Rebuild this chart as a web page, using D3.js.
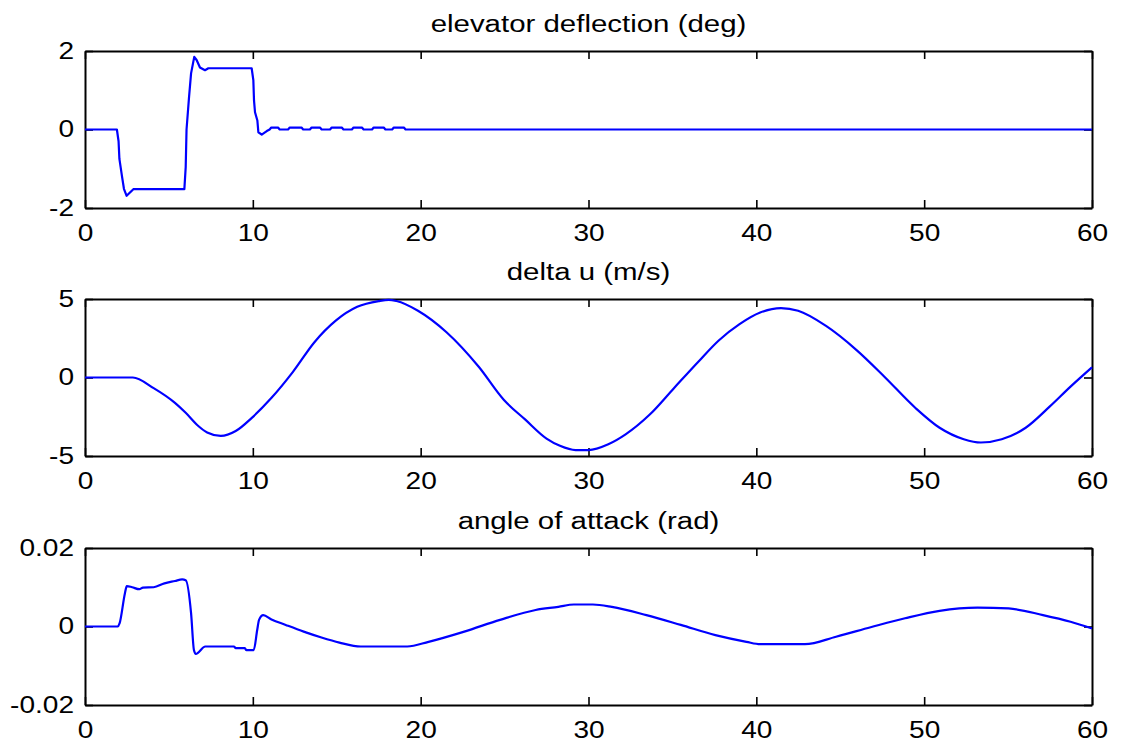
<!DOCTYPE html>
<html>
<head>
<meta charset="utf-8">
<script src="https://cdn.jsdelivr.net/npm/d3@7"></script>
<style>
  body { margin: 0; background: #fff; }
  svg { display: block; font-family: "Liberation Sans", Arial, Helvetica, sans-serif; }
</style>
</head>
<body>
<svg id="fig" width="1122" height="742"></svg>
<script>
// Simulated longitudinal response of the aircraft (time in seconds)
const xTicks = [0, 10, 20, 30, 40, 50, 60];
const panelTitles = ["elevator deflection (deg)", "delta u (m/s)", "angle of attack (rad)"];

// elevator deflection (deg)
const elevTime = [0, 1.9, 2.0, 2.05, 2.2, 2.32, 2.48, 2.88, 5.92, 6.0,
  6.05, 6.2, 6.32, 6.51, 6.65, 6.85, 7.15, 7.35, 9.93, 10.03,
  10.07, 10.13, 10.27, 10.33, 10.53, 10.83, 11.0, 11.1, 11.5, 11.6,
  12.1, 12.2, 12.9, 13.0, 13.4, 13.5, 14.0, 14.1, 14.6, 14.7,
  15.3, 15.4, 15.9, 16.0, 16.5, 16.6, 17.1, 17.2, 17.8, 17.9,
  18.3, 18.4, 19.0, 19.1, 60];
const elevDeg = [0, 0, -0.3, -0.75, -1.18, -1.51, -1.69, -1.52, -1.52, -0.96,
  0, 0.83, 1.43, 1.85, 1.77, 1.58, 1.51, 1.56, 1.56, 1.26,
  0.74, 0.44, 0.23, -0.07, -0.13, -0.04, 0, 0.05, 0.05, 0,
  0, 0.05, 0.05, 0, 0, 0.05, 0.05, 0, 0, 0.05,
  0.05, 0, 0, 0.05, 0.05, 0, 0, 0.05, 0.05, 0,
  0, 0.05, 0.05, 0, 0];
const elevTicks = [-2, 0, 2];

// forward speed perturbation (m/s)
const speedTime = [0, 2.85, 4.09, 5.36, 6.0, 6.75, 7.28, 8.09, 8.98, 9.94,
  11.1, 12.39, 13.67, 14.94, 16.22, 17.5, 18.1, 18.56, 19.84, 21.54,
  23.46, 24.95, 26.22, 27.5, 28.3, 29.23, 30.0, 31.18, 32.21, 33.65,
  35.09, 36.53, 37.76, 39.0, 40.23, 41.47, 42.49, 44.13, 45.99, 47.63,
  49.48, 50.92, 52.36, 53.38, 54.62, 56.05, 57.49, 58.72, 60];
const speedDelta = [0, 0, -0.68, -1.62, -2.25, -3.09, -3.5, -3.72, -3.41, -2.57,
  -1.31, 0.36, 2.25, 3.62, 4.5, 4.87, 4.95, 4.87, 4.25, 2.88,
  0.68, -1.42, -2.67, -3.89, -4.35, -4.62, -4.62, -4.25, -3.62, -2.36,
  -0.68, 0.99, 2.36, 3.4, 4.14, 4.42, 4.25, 3.3, 1.73, 0.05,
  -1.94, -3.2, -3.93, -4.14, -3.93, -3.2, -1.84, -0.58, 0.65];
const speedTicks = [-5, 0, 5];

// angle of attack (rad)
const alphaTime = [0, 1.96, 2.06, 2.38, 2.49, 2.81, 3.24, 3.45, 4.09, 4.73,
  5.36, 5.79, 6.0, 6.32, 6.49, 6.6, 7.17, 8.87, 8.98, 9.51,
  9.62, 10.05, 10.26, 10.37, 10.62, 11.11, 11.96, 13.03, 14.09, 15.16,
  16.43, 19.2, 20.47, 22.6, 24.73, 26.85, 28.2, 29.13, 30.26, 31.39,
  33.45, 35.5, 37.56, 39.41, 40.23, 42.9, 44.75, 46.81, 48.86, 50.92,
  53.17, 55.03, 57.08, 58.72, 60];
const alphaRad = [0, 0, 0.0008, 0.0085, 0.0103, 0.01, 0.0095, 0.0099, 0.01, 0.011,
  0.0116, 0.012, 0.0118, 0.0034, -0.006, -0.007, -0.0051, -0.0051, -0.0055, -0.0055,
  -0.006, -0.006, -0.0009, 0.0017, 0.0029, 0.0018, 0.0004, -0.0013, -0.0028, -0.0041,
  -0.0051, -0.0051, -0.0039, -0.0013, 0.0017, 0.0042, 0.005, 0.0056, 0.0056, 0.005,
  0.0029, 0.0004, -0.0022, -0.0039, -0.0045, -0.0045, -0.0026, -0.0002, 0.0021, 0.004,
  0.0048, 0.0046, 0.0029, 0.0012, -0.0005];
const alphaTicks = [-0.02, 0, 0.02];

// ---- layout ----
const left = 85, right = 1092, panelH = 157;
const tops = [51, 299, 548];
const fontSize = 23, stretch = 1.22, titleStretch = 1.28, tickLen = 8;

const panels = [
  { title: panelTitles[0], t: elevTime, v: elevDeg, ticks: elevTicks, curve: d3.curveLinear },
  { title: panelTitles[1], t: speedTime, v: speedDelta, ticks: speedTicks, curve: d3.curveMonotoneX },
  { title: panelTitles[2], t: alphaTime, v: alphaRad, ticks: alphaTicks, curve: d3.curveMonotoneX }
];

const svg = d3.select("#fig");
svg.append("rect").attr("width", 1122).attr("height", 742).attr("fill", "#fff");

const x = d3.scaleLinear().domain([0, 60]).range([left, right]);

function styleAxis(sel, showLabels) {
  sel.attr("font-family", null).attr("font-size", fontSize);
  sel.select(".domain").attr("stroke", "#000").attr("stroke-width", 2);
  sel.selectAll(".tick line").attr("stroke", "#000").attr("stroke-width", 1.6);
  if (showLabels) {
    sel.selectAll(".tick text").attr("fill", "#000")
      .attr("transform", `scale(${stretch},1)`);
  } else {
    sel.selectAll(".tick text").remove();
  }
}

panels.forEach((p, i) => {
  const top = tops[i];
  const g = svg.append("g").attr("transform", `translate(0,${top})`);
  const y = d3.scaleLinear().domain([p.ticks[0], p.ticks[2]]).range([panelH, 0]);

  // title
  g.append("text")
    .attr("transform", `translate(${(left + right) / 2},${-19}) scale(${titleStretch},1)`)
    .attr("text-anchor", "middle")
    .attr("font-size", fontSize)
    .attr("fill", "#000")
    .text(p.title);

  // box with inward ticks on all four sides
  g.append("g").attr("transform", `translate(0,${panelH})`)
    .call(d3.axisBottom(x).tickValues(xTicks).tickSizeInner(-tickLen).tickSizeOuter(0)
      .tickPadding(17).tickFormat(String))
    .call(s => styleAxis(s, true));
  g.append("g")
    .call(d3.axisTop(x).tickValues(xTicks).tickSizeInner(-tickLen).tickSizeOuter(0))
    .call(s => styleAxis(s, false));
  g.append("g").attr("transform", `translate(${left},0)`)
    .call(d3.axisLeft(y).tickValues(p.ticks).tickSizeInner(-tickLen).tickSizeOuter(0)
      .tickPadding(9).tickFormat(String))
    .call(s => styleAxis(s, true));
  g.append("g").attr("transform", `translate(${right},0)`)
    .call(d3.axisRight(y).tickValues(p.ticks).tickSizeInner(-tickLen).tickSizeOuter(0))
    .call(s => styleAxis(s, false));

  // response trace
  const line = d3.line()
    .x(d => x(d[0]))
    .y(d => y(d[1]))
    .curve(p.curve);
  g.append("path")
    .datum(d3.zip(p.t, p.v))
    .attr("d", line)
    .attr("fill", "none")
    .attr("stroke", "#0000ff")
    .attr("stroke-width", 2.2)
    .attr("stroke-linejoin", "round");
});
</script>
</body>
</html>
